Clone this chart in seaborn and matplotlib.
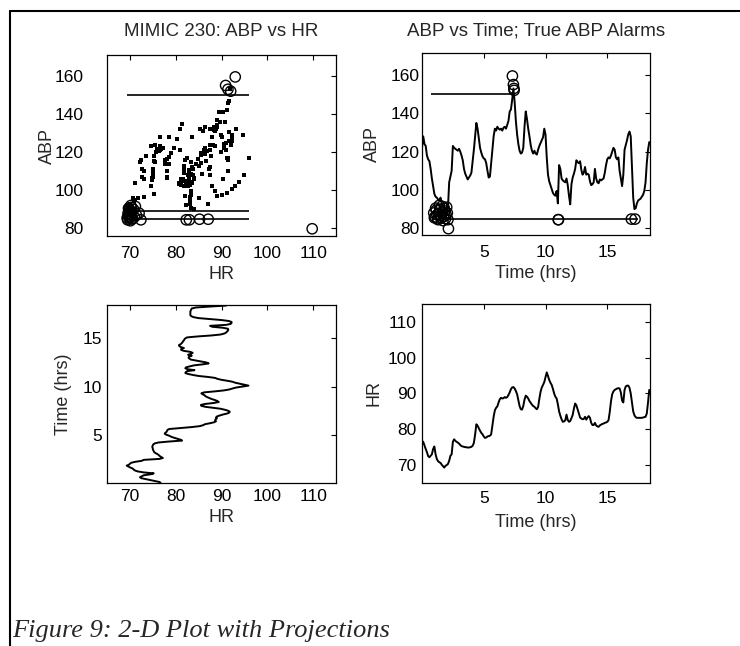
import numpy as np
import pandas as pd
import matplotlib
matplotlib.use("Agg")
import matplotlib.pyplot as plt
from matplotlib.lines import Line2D
import seaborn as sns

# ---- MIMIC record 230: arterial blood pressure and heart rate, one sample every 0.1 h ----
SAMPLE_HRS = 0.1
abp = [
    122, 128, 124, 123, 118, 116, 115, 111, 106, 102,
    98, 96.5, 96, 95, 94.5, 96, 93, 92, 89.5, 88.5,
    89, 90.5, 104, 107, 110, 123, 122, 121.5, 121, 120.5,
    121.5, 120, 118, 115.5, 111, 108.5, 107, 105.5, 106.5, 107.5,
    109, 115, 121, 128, 135, 132, 127, 122, 119.5, 117.5,
    116.5, 116, 114, 110, 106.5, 107, 114, 121, 128, 132,
    131, 133, 132, 131.5, 132, 131, 132.5, 133, 132, 134,
    136, 141, 142, 147, 153, 146, 136, 129, 124, 120.5,
    119, 119.5, 122, 133, 141, 137, 132, 128, 123.5, 120.5,
    119, 120.5, 119, 118.5, 121, 123, 124.5, 126, 127.5, 132,
    129, 117, 108, 104.5, 102.5, 100.5, 98.5, 97.5, 97, 99.5,
    93, 113, 111, 106, 105, 104.5, 104, 106, 102.5, 97,
    92.5, 103, 106.5, 108.5, 111, 115.5, 114.5, 114, 115, 110.5,
    108, 109, 112, 108, 108.5, 108, 104.5, 102.5, 103, 104,
    111, 106, 104, 103.5, 105.5, 105, 105.5, 106, 109, 113,
    116, 117, 116.5, 118, 120, 122, 121, 117, 116, 117,
    110, 106, 102, 108, 121, 123.5, 126, 129, 130.5, 128,
    112, 96, 90, 90.5, 93, 94.5, 95, 95.5, 96.5, 97.5,
    99.5, 104, 114, 121, 125,
]
hr = [
    76.7, 76.5, 75.5, 74.5, 73.6, 72.5, 72.2, 72.6, 73.0, 74.5,
    75.2, 73.0, 71.7, 71.1, 70.8, 70.6, 70.1, 69.7, 69.3, 69.8,
    70.0, 70.3, 71.2, 72.6, 73.0, 76.5, 77.2, 76.8, 76.5, 76.3,
    76.0, 75.6, 75.3, 75.2, 75.1, 75.0, 75.0, 74.9, 74.9, 75.0,
    75.1, 75.4, 76.2, 78.5, 81.4, 81.0, 80.3, 79.6, 79.0, 78.6,
    78.0, 77.6, 77.7, 78.0, 78.1, 78.2, 78.6, 81.0, 83.5, 85.3,
    86.0, 86.4, 87.5, 88.4, 88.8, 88.6, 88.7, 89.0, 88.8, 89.0,
    89.6, 90.3, 91.2, 91.7, 91.8, 91.4, 90.7, 89.8, 88.2, 86.5,
    85.6, 85.5, 86.5, 88.3, 89.4, 89.1, 88.6, 87.9, 87.4, 86.9,
    86.5, 86.3, 85.9, 85.6, 86.2, 88.5, 90.5, 91.7, 92.4, 93.2,
    94.6, 95.9, 94.9, 93.8, 93.0, 92.4, 91.3, 90.0, 89.1, 88.6,
    87.0, 85.0, 83.8, 82.8, 82.1, 82.2, 82.5, 84.1, 82.6, 82.1,
    82.3, 83.1, 84.0, 85.8, 87.2, 86.7, 85.6, 84.4, 83.3, 83.0,
    82.8, 82.9, 83.5, 82.7, 83.3, 83.7, 83.2, 81.8, 81.2, 81.2,
    81.8, 81.1, 80.8, 80.7, 81.1, 81.3, 81.5, 81.6, 81.8, 81.9,
    82.1, 82.5, 84.8, 87.8, 89.8, 90.6, 91.0, 91.2, 91.4, 91.5,
    91.4, 90.3, 88.0, 87.5, 91.0, 92.0, 92.2, 92.2, 91.6, 90.0,
    87.5, 85.0, 83.9, 83.4, 83.2, 83.2, 83.2, 83.2, 83.2, 83.3,
    83.4, 83.5, 84.4, 87.5, 91.0,
]
time_hrs = np.round(np.arange(len(abp)) * SAMPLE_HRS, 1)

# ---- true ABP alarms: time (h), ABP and HR at the alarm ----
alarm_time = [0.95, 1.00, 1.05, 1.10, 1.15, 1.20, 1.25, 1.30, 1.35, 1.40, 1.45, 1.50,
              1.55, 1.60, 1.65, 1.70, 1.75, 1.80, 1.85, 1.90, 1.95, 2.00, 2.05, 2.10,
              2.14, 7.32, 7.40, 7.44, 7.46, 11.03, 11.05, 16.95, 17.25]
alarm_abp = [88.0, 85.5, 86.0, 90.5, 89.5, 87.0, 85.0, 84.5, 87.5, 92.0, 90.0, 86.5,
             85.5, 91.5, 88.5, 84.0, 86.0, 90.5, 89.0, 85.0, 87.0, 91.0, 88.0, 84.5,
             79.8, 159.5, 155.0, 153.0, 152.0, 84.5, 84.5, 84.8, 84.8]
alarm_hr = [69.6, 69.4, 70.0, 69.7, 69.8, 70.3, 70.4, 69.5, 70.0, 70.2, 70.8, 69.6,
            69.9, 71.2, 70.5, 70.1, 71.0, 69.8, 70.2, 70.6, 71.4, 70.3, 72.0, 72.4,
            109.8, 93.0, 90.9, 91.4, 92.0, 82.3, 83.0, 85.2, 87.1]

# alarm thresholds (mmHg) and the time spans over which they were active
abp_thresholds = [150, 89, 85]
high_threshold, high_span = 150, (0.7, 7.4)
low_threshold, low_span = 85, (1.5, 17.5)

vitals = pd.DataFrame({"time": time_hrs, "ABP": abp, "HR": hr})
alarms = pd.DataFrame({"time": alarm_time, "ABP": alarm_abp, "HR": alarm_hr})

sns.set_style("white")
plt.rcParams["font.family"] = ["Liberation Sans", "DejaVu Sans"]

W, H = 740, 646
fig = plt.figure(figsize=(W / 100, H / 100), dpi=100)


def px_axes(left, top, right, bottom):
    return fig.add_axes([left / W, 1 - bottom / H, (right - left) / W, (bottom - top) / H])


ax_tl = px_axes(107, 55, 336, 236)
ax_tr = px_axes(422, 53, 650, 235)
ax_bl = px_axes(107, 305, 336, 483)
ax_br = px_axes(422, 304, 650, 483)

LW = 1.4
circle_kw = dict(marker="o", s=55, facecolor="none", edgecolor="black", linewidth=1.0, zorder=4)

# ABP vs HR
sns.scatterplot(data=vitals, x="HR", y="ABP", marker="s", s=5, color="black",
                linewidth=0, ax=ax_tl)
ax_tl.hlines(abp_thresholds, vitals["HR"].min(), vitals["HR"].max(), color="black", lw=1.2)
sns.scatterplot(data=alarms, x="HR", y="ABP", ax=ax_tl, **circle_kw)
ax_tl.set_xlim(65, 115)
ax_tl.set_ylim(76, 171)
ax_tl.set_xticks([70, 80, 90, 100, 110])
ax_tl.set_yticks([80, 100, 120, 140, 160])

# ABP vs time
sns.lineplot(data=vitals, x="time", y="ABP", color="black", lw=LW, estimator=None,
             sort=False, ax=ax_tr)
ax_tr.hlines(high_threshold, *high_span, color="black", lw=1.2)
ax_tr.hlines(low_threshold, *low_span, color="black", lw=1.2)
sns.scatterplot(data=alarms, x="time", y="ABP", ax=ax_tr, **circle_kw)
ax_tr.set_xlim(time_hrs[0], time_hrs[-1] + 0.06)
ax_tr.set_ylim(76.5, 171.5)
ax_tr.set_xticks([5, 10, 15])
ax_tr.set_yticks([80, 100, 120, 140, 160])

# time vs HR
sns.lineplot(data=vitals, x="HR", y="time", color="black", lw=LW, estimator=None,
             sort=False, orient="y", ax=ax_bl)
ax_bl.set_xlim(65, 115)
ax_bl.set_ylim(time_hrs[0], time_hrs[-1] + 0.06)
ax_bl.set_xticks([70, 80, 90, 100, 110])
ax_bl.set_yticks([5, 10, 15])

# HR vs time
sns.lineplot(data=vitals, x="time", y="HR", color="black", lw=LW, estimator=None,
             sort=False, ax=ax_br)
ax_br.set_xlim(time_hrs[0], time_hrs[-1] + 0.06)
ax_br.set_ylim(65, 115)
ax_br.set_xticks([5, 10, 15])
ax_br.set_yticks([70, 80, 90, 100, 110])

# axis text, tick padding and label placement per panel
panels = [
    (ax_tl, "HR", "ABP", 7.5, 17.0, -0.21, -0.262),
    (ax_tr, "Time (hrs)", "ABP", 7.0, 1.8, -0.213, -0.217),
    (ax_bl, "HR", "Time (hrs)", 4.0, 3.5, -0.192, -0.188),
    (ax_br, "Time (hrs)", "HR", 5.5, 4.0, -0.223, -0.212),
]
for ax, xl, yl, xpad, ypad, xly, ylx in panels:
    for side in ax.spines.values():
        side.set_color("black")
        side.set_linewidth(0.9)
    ax.tick_params(direction="in", length=3.5, width=0.8, top=True, right=True,
                   labelsize=12.5, colors="black")
    ax.tick_params(axis="x", pad=xpad)
    ax.tick_params(axis="y", pad=ypad)
    ax.set_xlabel(xl, fontsize=13, va="center")
    ax.set_ylabel(yl, fontsize=13, va="center")
    ax.xaxis.set_label_coords(0.5, xly)
    ax.yaxis.set_label_coords(ylx, 0.5)

ax_tl.set_title("MIMIC 230: ABP vs HR", fontsize=13.5, y=1.129, va="center", pad=0)
ax_tr.set_title("ABP vs Time; True ABP Alarms", fontsize=13.5, y=1.119, va="center", pad=0)

# page frame and caption
fig.add_artist(Line2D([10 / W, 10 / W], [0, 1 - 11 / H], transform=fig.transFigure,
                      color="black", lw=1.5))
fig.add_artist(Line2D([10 / W, 1], [1 - 11 / H, 1 - 11 / H], transform=fig.transFigure,
                      color="black", lw=1.5))
fig.text(12 / W, 1 - 637 / H, "Figure 9: 2-D Plot with Projections",
         family=["Liberation Serif", "DejaVu Serif"], style="italic", fontsize=19,
         va="baseline", ha="left")

fig.savefig("out.png", dpi=100, facecolor="white")
